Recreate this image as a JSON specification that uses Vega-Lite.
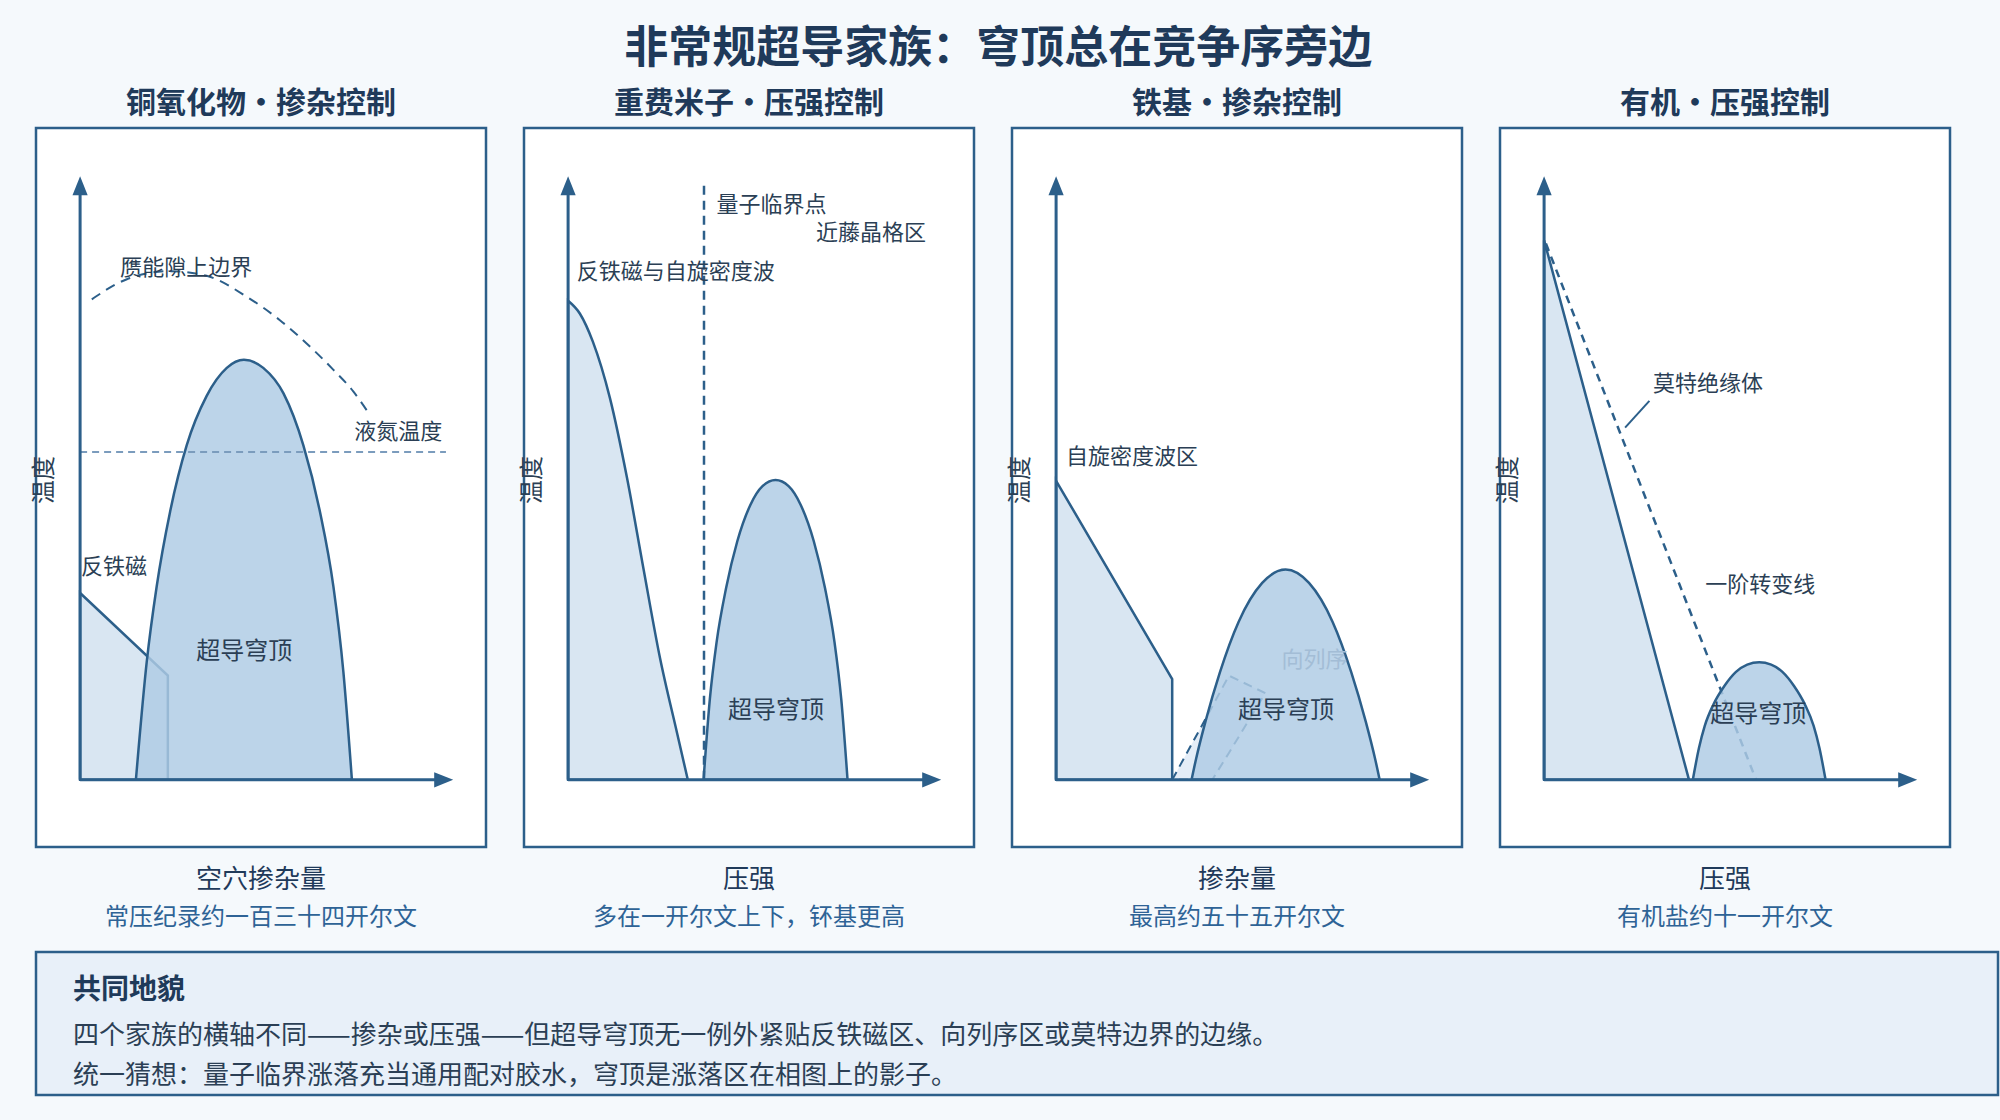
{
  "$schema": "https://vega.github.io/schema/vega-lite/v6.json",
  "background": "#f5f9fc",
  "padding": {"left": 31, "top": 28, "right": 3, "bottom": 27},
  "config": {
    "font": "Noto Sans CJK SC",
    "view": {"fill": "white", "stroke": "#2c5f8a", "strokeWidth": 2.5}
  },
  "title": {
    "text": "非常规超导家族：穹顶总在竞争序旁边",
    "fontSize": 44,
    "fontWeight": "bold",
    "color": "#1f3a5a",
    "anchor": "middle",
    "dx": -17,
    "offset": 17
  },
  "spacing": 18,
  "vconcat": [
    {
      "data": {"values": [
        {"p":"铜氧化物・掺杂控制","k":"axis","g":"ya","x":0,"y":0},
        {"p":"铜氧化物・掺杂控制","k":"axis","g":"ya","x":0,"y":87.5},
        {"p":"铜氧化物・掺杂控制","k":"axis","g":"xa","x":0,"y":0},
        {"p":"铜氧化物・掺杂控制","k":"axis","g":"xa","x":79.5,"y":0},
        {"p":"铜氧化物・掺杂控制","k":"arrow","d":"up","x":0,"y":88.4},
        {"p":"铜氧化物・掺杂控制","k":"arrow","d":"right","x":80.8,"y":0},
        {"p":"铜氧化物・掺杂控制","k":"ylab","t":"温度","x":-7.9,"y":44.6},
        {"p":"铜氧化物・掺杂控制","k":"cap1","t":"空穴掺杂量","x":40.2,"y":-14.9},
        {"p":"铜氧化物・掺杂控制","k":"cap2","t":"常压纪录约一百三十四开尔文","x":40.2,"y":-20.6},
        {"p":"铜氧化物・掺杂控制","k":"order","x":0,"y":27.8},
        {"p":"铜氧化物・掺杂控制","k":"order","x":19.5,"y":15.5},
        {"p":"铜氧化物・掺杂控制","k":"dome","x":12.4,"y":0},
        {"p":"铜氧化物・掺杂控制","k":"dome","x":14.8,"y":17.5},
        {"p":"铜氧化物・掺杂控制","k":"dome","x":17.0,"y":28.7},
        {"p":"铜氧化物・掺杂控制","k":"dome","x":20.0,"y":39.9},
        {"p":"铜氧化物・掺杂控制","k":"dome","x":23.7,"y":49.8},
        {"p":"铜氧化物・掺杂控制","k":"dome","x":28.1,"y":57.1},
        {"p":"铜氧化物・掺杂控制","k":"dome","x":32.6,"y":61.3},
        {"p":"铜氧化物・掺杂控制","k":"dome","x":36.4,"y":62.5},
        {"p":"铜氧化物・掺杂控制","k":"dome","x":40.7,"y":61.3},
        {"p":"铜氧化物・掺杂控制","k":"dome","x":45.2,"y":57.5},
        {"p":"铜氧化物・掺杂控制","k":"dome","x":49.6,"y":49.8},
        {"p":"铜氧化物・掺杂控制","k":"dome","x":53.3,"y":39.9},
        {"p":"铜氧化物・掺杂控制","k":"dome","x":56.3,"y":28.7},
        {"p":"铜氧化物・掺杂控制","k":"dome","x":58.5,"y":16.1},
        {"p":"铜氧化物・掺杂控制","k":"dome","x":60.4,"y":0},
        {"p":"铜氧化物・掺杂控制","k":"pg","x":2.6,"y":71.5},
        {"p":"铜氧化物・掺杂控制","k":"pg","x":10.4,"y":74.5},
        {"p":"铜氧化物・掺杂控制","k":"pg","x":20.0,"y":75.7},
        {"p":"铜氧化物・掺杂控制","k":"pg","x":28.1,"y":75.0},
        {"p":"铜氧化物・掺杂控制","k":"pg","x":37.0,"y":71.9},
        {"p":"铜氧化物・掺杂控制","k":"pg","x":44.4,"y":68.4},
        {"p":"铜氧化物・掺杂控制","k":"pg","x":50.4,"y":64.9},
        {"p":"铜氧化物・掺杂控制","k":"pg","x":56.3,"y":61.0},
        {"p":"铜氧化物・掺杂控制","k":"pg","x":60.7,"y":57.8},
        {"p":"铜氧化物・掺杂控制","k":"pg","x":64.0,"y":54.7},
        {"p":"铜氧化物・掺杂控制","k":"ln2","x":0,"y":48.8},
        {"p":"铜氧化物・掺杂控制","k":"ln2","x":81.3,"y":48.8},
        {"p":"铜氧化物・掺杂控制","k":"lab","t":"赝能隙上边界","x":8.9,"y":76.1},
        {"p":"铜氧化物・掺杂控制","k":"lab","t":"液氮温度","x":60.9,"y":51.7},
        {"p":"铜氧化物・掺杂控制","k":"lab","t":"反铁磁","x":0.2,"y":31.6},
        {"p":"铜氧化物・掺杂控制","k":"sc","t":"超导穹顶","x":36.5,"y":19.0},

        {"p":"重费米子・压强控制","k":"axis","g":"ya","x":0,"y":0},
        {"p":"重费米子・压强控制","k":"axis","g":"ya","x":0,"y":87.5},
        {"p":"重费米子・压强控制","k":"axis","g":"xa","x":0,"y":0},
        {"p":"重费米子・压强控制","k":"axis","g":"xa","x":79.5,"y":0},
        {"p":"重费米子・压强控制","k":"arrow","d":"up","x":0,"y":88.4},
        {"p":"重费米子・压强控制","k":"arrow","d":"right","x":80.8,"y":0},
        {"p":"重费米子・压强控制","k":"ylab","t":"温度","x":-7.9,"y":44.6},
        {"p":"重费米子・压强控制","k":"cap1","t":"压强","x":40.2,"y":-14.9},
        {"p":"重费米子・压强控制","k":"cap2","t":"多在一开尔文上下，钚基更高","x":40.2,"y":-20.6},
        {"p":"重费米子・压强控制","k":"order","x":0,"y":71.3},
        {"p":"重费米子・压强控制","k":"order","x":2.6,"y":69.4},
        {"p":"重费米子・压强控制","k":"order","x":5.5,"y":65.2},
        {"p":"重费米子・压强控制","k":"order","x":9.3,"y":56.8},
        {"p":"重费米子・压强控制","k":"order","x":13.1,"y":44.9},
        {"p":"重费米子・压强控制","k":"order","x":16.7,"y":31.6},
        {"p":"重费米子・压强控制","k":"order","x":20.4,"y":18.2},
        {"p":"重费米子・压强控制","k":"order","x":24.2,"y":7.0},
        {"p":"重费米子・压强控制","k":"order","x":26.6,"y":0},
        {"p":"重费米子・压强控制","k":"qcp","x":30.2,"y":0},
        {"p":"重费米子・压强控制","k":"qcp","x":30.2,"y":88.7},
        {"p":"重费米子・压强控制","k":"dome","x":30.1,"y":0},
        {"p":"重费米子・压强控制","k":"dome","x":31.5,"y":12.0},
        {"p":"重费米子・压强控制","k":"dome","x":33.0,"y":20.5},
        {"p":"重费米子・压强控制","k":"dome","x":35.1,"y":28.5},
        {"p":"重费米子・压强控制","k":"dome","x":37.6,"y":35.5},
        {"p":"重费米子・压强控制","k":"dome","x":40.5,"y":40.9},
        {"p":"重费米子・压强控制","k":"dome","x":43.2,"y":43.7},
        {"p":"重费米子・压强控制","k":"dome","x":46.1,"y":44.6},
        {"p":"重费米子・压强控制","k":"dome","x":49.0,"y":43.7},
        {"p":"重费米子・压强控制","k":"dome","x":51.7,"y":40.9},
        {"p":"重费米子・压强控制","k":"dome","x":54.6,"y":35.5},
        {"p":"重费米子・压强控制","k":"dome","x":57.1,"y":28.5},
        {"p":"重费米子・压强控制","k":"dome","x":59.2,"y":20.5},
        {"p":"重费米子・压强控制","k":"dome","x":60.7,"y":12.0},
        {"p":"重费米子・压强控制","k":"dome","x":62.1,"y":0},
        {"p":"重费米子・压强控制","k":"lab","t":"量子临界点","x":33.0,"y":85.6},
        {"p":"重费米子・压强控制","k":"lab","t":"近藤晶格区","x":55.1,"y":81.4},
        {"p":"重费米子・压强控制","k":"lab","t":"反铁磁与自旋密度波","x":1.9,"y":75.6},
        {"p":"重费米子・压强控制","k":"sc","t":"超导穹顶","x":46.2,"y":10.2},

        {"p":"铁基・掺杂控制","k":"axis","g":"ya","x":0,"y":0},
        {"p":"铁基・掺杂控制","k":"axis","g":"ya","x":0,"y":87.5},
        {"p":"铁基・掺杂控制","k":"axis","g":"xa","x":0,"y":0},
        {"p":"铁基・掺杂控制","k":"axis","g":"xa","x":79.5,"y":0},
        {"p":"铁基・掺杂控制","k":"arrow","d":"up","x":0,"y":88.4},
        {"p":"铁基・掺杂控制","k":"arrow","d":"right","x":80.8,"y":0},
        {"p":"铁基・掺杂控制","k":"ylab","t":"温度","x":-7.9,"y":44.6},
        {"p":"铁基・掺杂控制","k":"cap1","t":"掺杂量","x":40.2,"y":-14.9},
        {"p":"铁基・掺杂控制","k":"cap2","t":"最高约五十五开尔文","x":40.2,"y":-20.6},
        {"p":"铁基・掺杂控制","k":"order","x":0,"y":44.5},
        {"p":"铁基・掺杂控制","k":"order","x":25.8,"y":15.0},
        {"p":"铁基・掺杂控制","k":"nem","x":25.8,"y":0,"y2":0},
        {"p":"铁基・掺杂控制","k":"nem","x":34.7,"y":10.9,"y2":0},
        {"p":"铁基・掺杂控制","k":"nem","x":38.4,"y":15.5,"y2":4.0},
        {"p":"铁基・掺杂控制","k":"nem","x":46.5,"y":12.9,"y2":12.9},
        {"p":"铁基・掺杂控制","k":"dome","x":30.1,"y":0},
        {"p":"铁基・掺杂控制","k":"dome","x":31.1,"y":3.1},
        {"p":"铁基・掺杂控制","k":"dome","x":33.2,"y":8.7},
        {"p":"铁基・掺杂控制","k":"dome","x":36.4,"y":16.0},
        {"p":"铁基・掺杂控制","k":"dome","x":40.55,"y":23.5},
        {"p":"铁基・掺杂控制","k":"dome","x":45.8,"y":29.3},
        {"p":"铁基・掺杂控制","k":"dome","x":51.0,"y":31.3},
        {"p":"铁基・掺杂控制","k":"dome","x":56.2,"y":29.3},
        {"p":"铁基・掺杂控制","k":"dome","x":61.45,"y":23.5},
        {"p":"铁基・掺杂控制","k":"dome","x":65.6,"y":16.0},
        {"p":"铁基・掺杂控制","k":"dome","x":68.8,"y":8.7},
        {"p":"铁基・掺杂控制","k":"dome","x":70.9,"y":3.1},
        {"p":"铁基・掺杂控制","k":"dome","x":71.9,"y":0},
        {"p":"铁基・掺杂控制","k":"lab","t":"自旋密度波区","x":2.2,"y":48.1},
        {"p":"铁基・掺杂控制","k":"faint","t":"向列序","x":50.1,"y":17.8},
        {"p":"铁基・掺杂控制","k":"sc","t":"超导穹顶","x":51.1,"y":10.2},

        {"p":"有机・压强控制","k":"axis","g":"ya","x":0,"y":0},
        {"p":"有机・压强控制","k":"axis","g":"ya","x":0,"y":87.5},
        {"p":"有机・压强控制","k":"axis","g":"xa","x":0,"y":0},
        {"p":"有机・压强控制","k":"axis","g":"xa","x":79.5,"y":0},
        {"p":"有机・压强控制","k":"arrow","d":"up","x":0,"y":88.4},
        {"p":"有机・压强控制","k":"arrow","d":"right","x":80.8,"y":0},
        {"p":"有机・压强控制","k":"ylab","t":"温度","x":-7.9,"y":44.6},
        {"p":"有机・压强控制","k":"cap1","t":"压强","x":40.2,"y":-14.9},
        {"p":"有机・压强控制","k":"cap2","t":"有机盐约十一开尔文","x":40.2,"y":-20.6},
        {"p":"有机・压强控制","k":"order","x":0,"y":80.3},
        {"p":"有机・压强控制","k":"order","x":32.2,"y":0},
        {"p":"有机・压强控制","k":"fo","x":0.4,"y":79.8},
        {"p":"有机・压强控制","k":"fo","x":47.1,"y":0},
        {"p":"有机・压强控制","k":"lead","x":18.0,"y":52.4},
        {"p":"有机・压强控制","k":"lead","x":23.4,"y":56.4},
        {"p":"有机・压强控制","k":"dome","x":33.05,"y":0},
        {"p":"有机・压强控制","k":"dome","x":34.4,"y":4.7},
        {"p":"有机・压强控制","k":"dome","x":35.7,"y":8.03},
        {"p":"有机・压强控制","k":"dome","x":37.6,"y":11.17},
        {"p":"有机・压强控制","k":"dome","x":40.06,"y":13.95},
        {"p":"有机・压强控制","k":"dome","x":42.64,"y":16.05},
        {"p":"有机・压强控制","k":"dome","x":45.14,"y":17.15},
        {"p":"有机・压强控制","k":"dome","x":47.8,"y":17.5},
        {"p":"有机・压强控制","k":"dome","x":50.46,"y":17.15},
        {"p":"有机・压强控制","k":"dome","x":52.96,"y":16.05},
        {"p":"有机・压强控制","k":"dome","x":55.54,"y":13.95},
        {"p":"有机・压强控制","k":"dome","x":57.98,"y":11.17},
        {"p":"有机・压强控制","k":"dome","x":59.9,"y":8.03},
        {"p":"有机・压强控制","k":"dome","x":61.2,"y":4.7},
        {"p":"有机・压强控制","k":"dome","x":62.55,"y":0},
        {"p":"有机・压强控制","k":"lab","t":"莫特绝缘体","x":24.2,"y":58.9},
        {"p":"有机・压强控制","k":"lab","t":"一阶转变线","x":35.8,"y":29.0},
        {"p":"有机・压强控制","k":"sc","t":"超导穹顶","x":47.6,"y":9.6}
      ]},
      "facet": {
        "column": {
          "field": "p",
          "type": "nominal",
          "sort": ["铜氧化物・掺杂控制", "重费米子・压强控制", "铁基・掺杂控制", "有机・压强控制"],
          "title": null,
          "header": {"labelFontSize": 30, "labelFontWeight": "bold", "labelColor": "#1f3a5a", "labelPadding": 9}
        }
      },
      "spacing": 38,
      "bounds": "flush",
      "spec": {
        "width": 450,
        "height": 719,
        "encoding": {
          "x": {"field": "x", "type": "quantitative", "scale": {"domain": [-9.8, 90.2], "nice": false, "zero": false}, "axis": null},
          "y": {"field": "y", "type": "quantitative", "scale": {"domain": [-10, 97], "nice": false, "zero": false}, "axis": null}
        },
        "layer": [
          {"transform": [{"filter": "datum.k === 'order'"}],
           "mark": {"type": "area", "interpolate": "monotone", "fill": "#d9e6f2", "stroke": "#2c5f8a", "strokeWidth": 2.5},
           "encoding": {"y2": {"datum": 0}}},
          {"transform": [{"filter": "datum.k === 'nem'"}],
           "mark": {"type": "area", "interpolate": "linear", "fill": "#e4edf7", "stroke": "#2c5f8a", "strokeWidth": 2, "strokeDash": [9, 6]},
           "encoding": {"y2": {"field": "y2"}}},
          {"transform": [{"filter": "datum.k === 'fo'"}],
           "mark": {"type": "line", "color": "#2c5f8a", "strokeWidth": 2.5, "strokeDash": [8, 6]}},
          {"transform": [{"filter": "datum.k === 'pg'"}],
           "mark": {"type": "line", "interpolate": "monotone", "color": "#2c5f8a", "strokeWidth": 2, "strokeDash": [10, 7]}},
          {"transform": [{"filter": "datum.k === 'dome'"}],
           "mark": {"type": "area", "interpolate": "monotone", "fill": "#afcbe5", "fillOpacity": 0.83, "stroke": "#2c5f8a", "strokeOpacity": 1, "strokeWidth": 2.5},
           "encoding": {"y2": {"datum": 0}}},
          {"transform": [{"filter": "datum.k === 'ln2'"}],
           "mark": {"type": "line", "color": "#7b9cbd", "strokeWidth": 2, "strokeDash": [7, 5]}},
          {"transform": [{"filter": "datum.k === 'qcp'"}],
           "mark": {"type": "line", "color": "#2c5f8a", "strokeWidth": 2.5, "strokeDash": [9, 6]}},
          {"transform": [{"filter": "datum.k === 'axis'"}],
           "mark": {"type": "line", "color": "#2c5f8a", "strokeWidth": 3},
           "encoding": {"detail": {"field": "g", "type": "nominal"}}},
          {"transform": [{"filter": "datum.k === 'lead'"}],
           "mark": {"type": "line", "color": "#2c5f8a", "strokeWidth": 2}},
          {"transform": [{"filter": "datum.k === 'arrow'"}],
           "mark": {"type": "point", "filled": true, "color": "#2c5f8a", "opacity": 1, "size": 361, "strokeWidth": 0},
           "encoding": {"shape": {"field": "d", "type": "nominal", "scale": {"domain": ["up", "right"], "range": ["M0,-1L-0.8,1L0.8,1Z", "M1,0L-1,-0.8L-1,0.8Z"]}, "legend": null}}},
          {"transform": [{"filter": "datum.k === 'lab'"}],
           "mark": {"type": "text", "align": "left", "baseline": "middle", "fontSize": 22, "color": "#2b3f55"},
           "encoding": {"text": {"field": "t"}}},
          {"transform": [{"filter": "datum.k === 'faint'"}],
           "mark": {"type": "text", "align": "left", "baseline": "middle", "fontSize": 22, "color": "#a3bdd6"},
           "encoding": {"text": {"field": "t"}}},
          {"transform": [{"filter": "datum.k === 'sc'"}],
           "mark": {"type": "text", "align": "center", "baseline": "middle", "fontSize": 24, "color": "#2b3f55"},
           "encoding": {"text": {"field": "t"}}},
          {"transform": [{"filter": "datum.k === 'ylab'"}],
           "mark": {"type": "text", "align": "center", "baseline": "middle", "fontSize": 24, "angle": 270, "color": "#2b3f55"},
           "encoding": {"text": {"field": "t"}}},
          {"transform": [{"filter": "datum.k === 'cap1'"}],
           "mark": {"type": "text", "align": "center", "baseline": "middle", "fontSize": 26, "color": "#1f3a5a"},
           "encoding": {"text": {"field": "t"}}},
          {"transform": [{"filter": "datum.k === 'cap2'"}],
           "mark": {"type": "text", "align": "center", "baseline": "middle", "fontSize": 24, "color": "#2e6396"},
           "encoding": {"text": {"field": "t"}}}
        ]
      }
    },
    {
      "width": 1962,
      "height": 143,
      "view": {"fill": "#e8f0f9", "stroke": "#2c5f8a", "strokeWidth": 2.5},
      "data": {"values": [
        {"k": "h", "t": "共同地貌", "x": 1.89, "y": 27.5},
        {"k": "b", "t": "四个家族的横轴不同——掺杂或压强——但超导穹顶无一例外紧贴反铁磁区、向列序区或莫特边界的边缘。", "x": 1.89, "y": 58.5},
        {"k": "b", "t": "统一猜想：量子临界涨落充当通用配对胶水，穹顶是涨落区在相图上的影子。", "x": 1.89, "y": 87.0}
      ]},
      "encoding": {
        "x": {"field": "x", "type": "quantitative", "scale": {"domain": [0, 100], "nice": false}, "axis": null},
        "y": {"field": "y", "type": "quantitative", "scale": {"domain": [0, 100], "nice": false, "reverse": true}, "axis": null},
        "text": {"field": "t"}
      },
      "layer": [
        {"transform": [{"filter": "datum.k === 'h'"}],
         "mark": {"type": "text", "align": "left", "baseline": "middle", "fontSize": 28, "fontWeight": "bold", "color": "#1f3a5a"}},
        {"transform": [{"filter": "datum.k === 'b'"}],
         "mark": {"type": "text", "align": "left", "baseline": "middle", "fontSize": 26, "color": "#2b3f55"}}
      ]
    }
  ]
}
